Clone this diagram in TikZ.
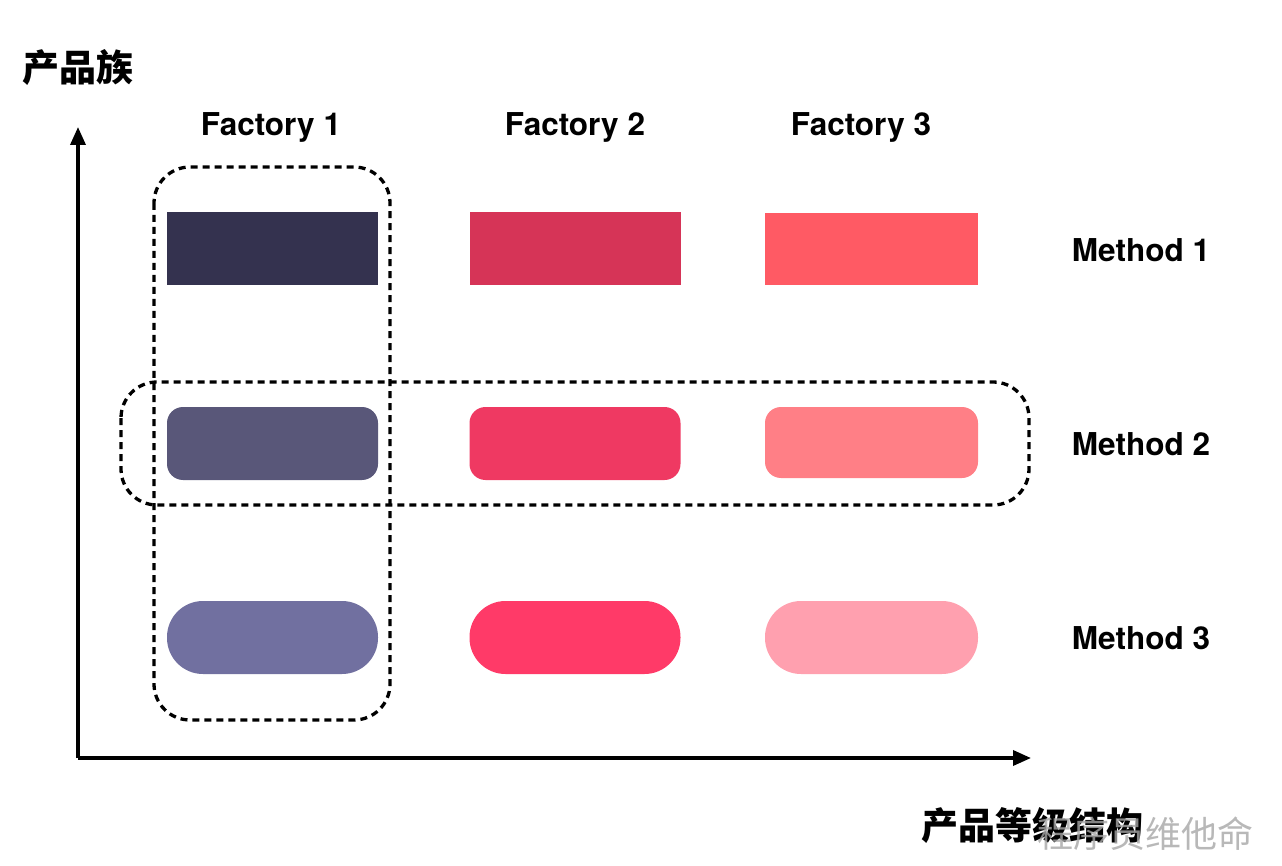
\documentclass[tikz,border=0pt]{standalone}
\usepackage{fontspec}
\setmainfont{TeX Gyre Heros}
\newfontfamily\cjk{Noto Sans CJK SC}
\usetikzlibrary{arrows.meta}
\definecolor{cA1}{HTML}{34324F}
\definecolor{cB1}{HTML}{D63457}
\definecolor{cC1}{HTML}{FF5A64}
\definecolor{cA2}{HTML}{595779}
\definecolor{cB2}{HTML}{EF3962}
\definecolor{cC2}{HTML}{FF7F86}
\definecolor{cA3}{HTML}{7170A0}
\definecolor{cB3}{HTML}{FF3A68}
\definecolor{cC3}{HTML}{FFA0AF}
\tikzset{
  box/.style={minimum width=211pt, minimum height=73pt, inner sep=0pt, draw=none},
  sharpbox/.style={box},
  roundbox/.style={box, rounded corners=16pt},
  pillbox/.style={box, rounded corners=36pt},
  lbl/.style={font=\bfseries\fontsize{31.5}{31.5}\selectfont, inner sep=0pt},
  cjklbl/.style={font=\cjk\bfseries\fontsize{37}{37}\selectfont, inner sep=0pt},
  axis/.style={line width=3.5pt, -{Triangle[length=18pt,width=15pt]}},
  group/.style={line width=3.3pt, dash pattern=on 7pt off 5pt, rounded corners=36pt}
}
\begin{document}
\begin{tikzpicture}[x=1pt,y=-1pt]
\useasboundingbox (0,0) rectangle (1282,866);
% axes
\coordinate (origin) at (78,758);
\coordinate (ytip) at (78,127);
\coordinate (xtip) at (1031,758);
\draw[axis] (origin) -- (ytip);
\draw[axis] (origin) -- (xtip);
% axis labels
\node[cjklbl] (yl) at (78,68) {产品族};
\node[cjklbl] (xl) at (1032,826) {产品等级结构};
\node[font=\cjk\fontsize{36}{36}\selectfont, text=black!35, opacity=0.8, inner sep=0pt] (wm) at (1145,834) {程序员维他命};
% column labels
\node[lbl] (f1) at (271,127) {Factory 1};
\node[lbl] (f2) at (575,127) {Factory 2};
\node[lbl] (f3) at (861,127) {Factory 3};
% row labels
\node[lbl] (m1) at (1141,250) {Method 1};
\node[lbl] (m2) at (1141,444) {Method 2};
\node[lbl] (m3) at (1141,638) {Method 3};
% row 1
\node[sharpbox, fill=cA1] (a1) at (272,248.5) {};
\node[sharpbox, fill=cB1] (b1) at (575,248.5) {};
\node[sharpbox, fill=cC1, minimum width=213pt, minimum height=72pt] (c1) at (871.5,249) {};
% row 2
\node[roundbox, fill=cA2] (a2) at (272.5,443.5) {};
\node[roundbox, fill=cB2] (b2) at (575,443.5) {};
\node[roundbox, fill=cC2, minimum width=213pt, minimum height=71pt] (c2) at (871.5,442.5) {};
% row 3
\node[pillbox, fill=cA3] (a3) at (272.5,637.5) {};
\node[pillbox, fill=cB3] (b3) at (575,637.5) {};
\node[pillbox, fill=cC3, minimum width=213pt] (c3) at (871.5,637.5) {};
% groups
\draw[group] (154,167) rectangle (390,720);
\draw[group] (121,382) rectangle (1029,505);
\end{tikzpicture}
\end{document}
